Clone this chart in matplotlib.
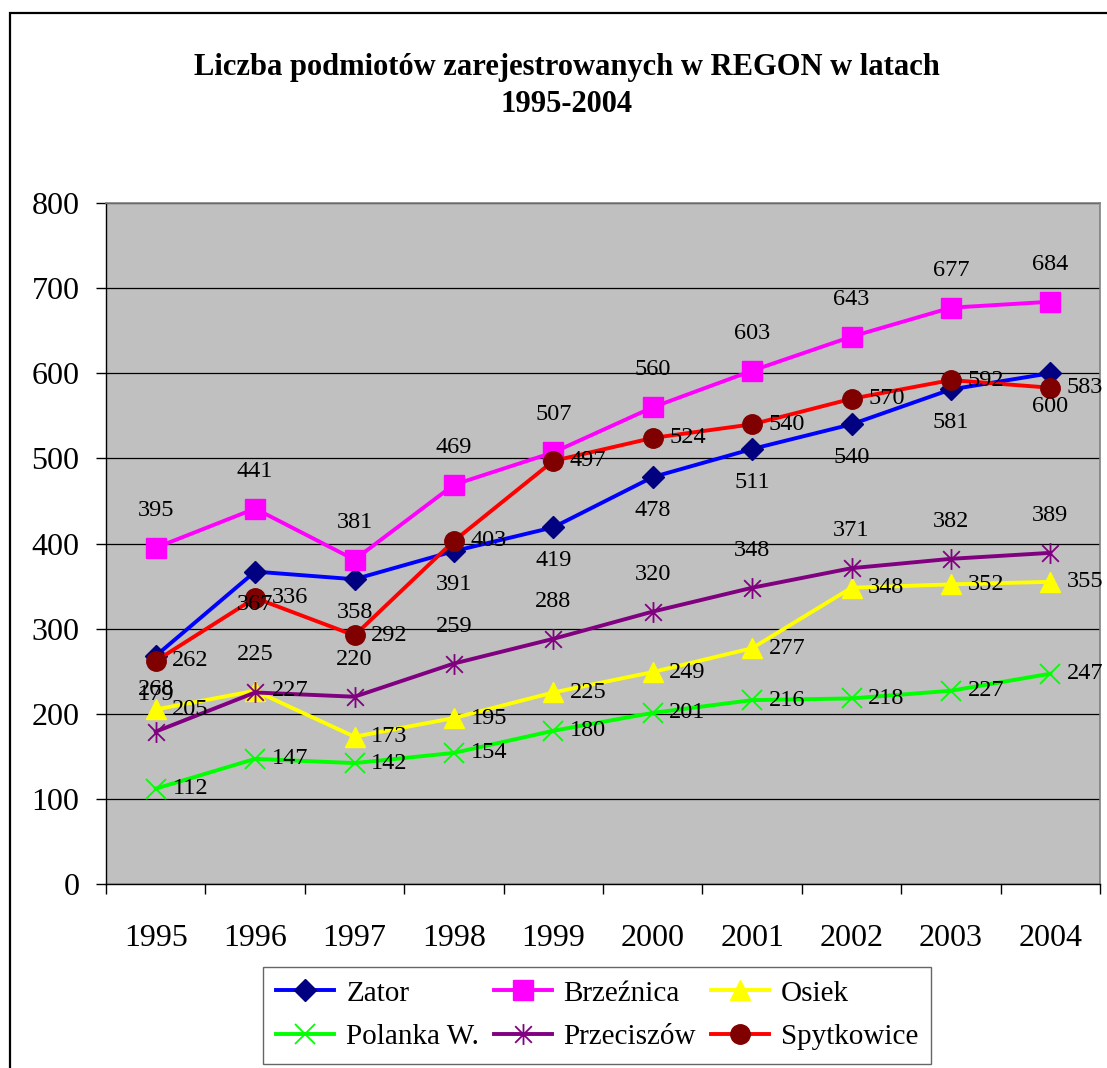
import matplotlib
matplotlib.use("Agg")
import matplotlib.pyplot as plt
from matplotlib.path import Path
from matplotlib.patches import Rectangle

years = ["1995", "1996", "1997", "1998", "1999", "2000", "2001", "2002", "2003", "2004"]
zator = [268, 367, 358, 391, 419, 478, 511, 540, 581, 600]
brzeznica = [395, 441, 381, 469, 507, 560, 603, 643, 677, 684]
osiek = [205, 227, 173, 195, 225, 249, 277, 348, 352, 355]
polanka = [112, 147, 142, 154, 180, 201, 216, 218, 227, 247]
przeciszow = [179, 225, 220, 259, 288, 320, 348, 371, 382, 389]
spytkowice = [262, 336, 292, 403, 497, 524, 540, 570, 592, 583]
yticks = [0, 100, 200, 300, 400, 500, 600, 700, 800]

SERIF = "Liberation Serif"
W, H = 1107, 1068
fig = plt.figure(figsize=(W / 100, H / 100), dpi=100)
fig.patch.set_facecolor("white")

# figure border (extends past right and bottom edge)
fig.patches.append(Rectangle((10 / W, -0.2), 1.2, 1 - 13 / H + 0.2, transform=fig.transFigure,
                             fill=False, edgecolor="black", linewidth=1.6, zorder=0))

ax = fig.add_axes([106 / W, 1 - 884 / H, (1100 - 106) / W, (884 - 203) / H])
ax.set_facecolor("#C0C0C0")
for s in ["top", "right"]:
    ax.spines[s].set_color("#808080")
    ax.spines[s].set_linewidth(1.2)
for s in ["left", "bottom"]:
    ax.spines[s].set_color("black")
    ax.spines[s].set_linewidth(1.0)

x = list(range(len(years)))
ax.set_xlim(-0.5, len(years) - 0.5)
ax.set_ylim(0, 800)
ax.set_yticks(yticks)
ax.set_yticklabels([str(v) for v in yticks], fontfamily=SERIF, fontsize=23)
ax.yaxis.grid(True, color="black", linewidth=0.9)
ax.set_axisbelow(True)
ax.tick_params(axis="y", direction="out", length=7, width=1, pad=12)

ax.set_xticks([i - 0.5 for i in range(len(years) + 1)])
ax.set_xticklabels([])
ax.set_xticks(x, minor=True)
ax.set_xticklabels(years, minor=True, fontfamily=SERIF, fontsize=23)
ax.tick_params(axis="x", which="major", direction="out", length=7, width=1)
ax.tick_params(axis="x", which="minor", length=0, pad=29)

star = Path([(-1, -1), (1, 1), (-1, 1), (1, -1), (0, -1.25), (0, 1.25)],
            [Path.MOVETO, Path.LINETO, Path.MOVETO, Path.LINETO, Path.MOVETO, Path.LINETO])

series = [
    ("Zator", zator, dict(color="#0000FF", marker="D", markersize=11.5, markerfacecolor="#000080",
                          markeredgecolor="#000080"), "below"),
    ("Brzeźnica", brzeznica, dict(color="#FF00FF", marker="s", markersize=14, markerfacecolor="#FF00FF",
                                  markeredgecolor="#FF00FF"), "above"),
    ("Osiek", osiek, dict(color="#FFFF00", marker="^", markersize=15, markerfacecolor="#FFFF00",
                          markeredgecolor="#FFFF00"), "right"),
    ("Polanka W.", polanka, dict(color="#00FF00", marker="x", markersize=14, markeredgewidth=1.3,
                                 markeredgecolor="#00FF00"), "right"),
    ("Przeciszów", przeciszow, dict(color="#800080", marker=star, markersize=15, markeredgewidth=1.3,
                                    markeredgecolor="#800080"), "above"),
    ("Spytkowice", spytkowice, dict(color="#FF0000", marker="o", markersize=14, markerfacecolor="#800000",
                                    markeredgecolor="#800000"), "right"),
]

handles = {}
for name, vals, style, pos in series:
    ln, = ax.plot(x, vals, linewidth=2.8, label=name, zorder=3, **style)
    handles[name] = ln
    for xi, v in zip(x, vals):
        if pos == "above":
            off, ha, va = (0, 27), "center", "center"
        elif pos == "below":
            off, ha, va = (0, -24), "center", "center"
        else:
            off, ha, va = (12, 0), "left", "center"
        ax.annotate(str(v), (xi, v), xytext=off, textcoords="offset points",
                    ha=ha, va=va, fontfamily=SERIF, fontsize=17.5, color="black", zorder=5)

fig.text(567 / W, 1 - 68 / H, "Liczba podmiotów zarejestrowanych w REGON w latach",
         ha="center", va="center", fontfamily=SERIF, fontweight="bold", fontsize=22)
fig.text(567 / W, 1 - 104 / H, "1995-2004",
         ha="center", va="center", fontfamily=SERIF, fontweight="bold", fontsize=22)

order = ["Zator", "Polanka W.", "Brzeźnica", "Przeciszów", "Osiek", "Spytkowice"]
leg = fig.legend([handles[n] for n in order], order, ncol=3, loc="upper left",
                 bbox_to_anchor=(263 / W, 1 - 967 / H), frameon=True, fancybox=False,
                 prop={"family": SERIF, "size": 21}, handlelength=2.0, handletextpad=0.4,
                 columnspacing=0.5, labelspacing=0.6, borderpad=0.45, borderaxespad=0)
leg.get_frame().set_edgecolor("#404040")
leg.get_frame().set_linewidth(1.0)

fig.savefig("out.png", dpi=100)
